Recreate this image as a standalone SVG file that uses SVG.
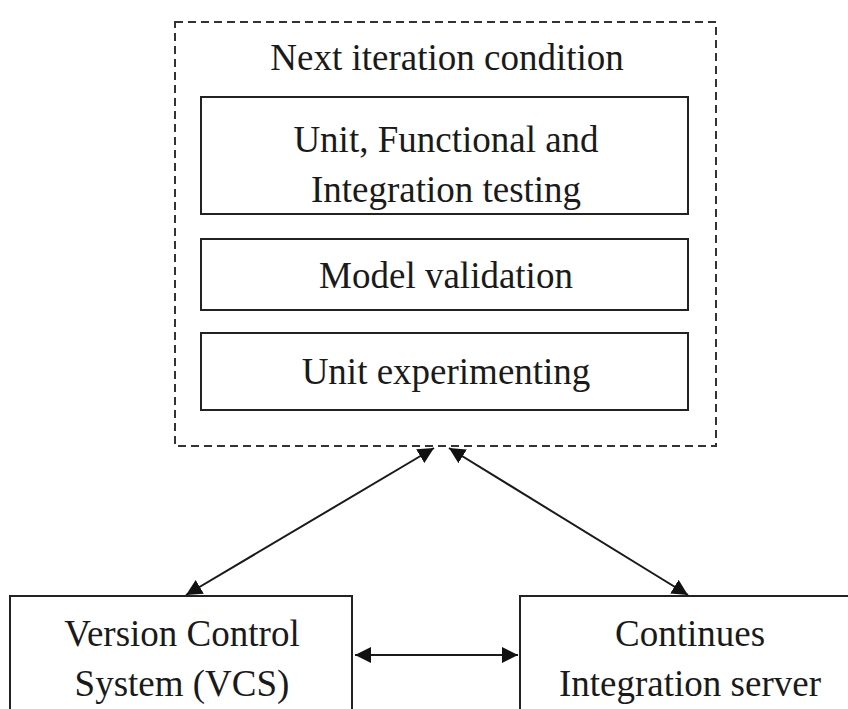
<svg xmlns="http://www.w3.org/2000/svg" width="848" height="709" viewBox="0 0 848 709">
<style>
.box{fill:#fff;stroke:#222;stroke-width:2}
.dash{fill:none;stroke:#333;stroke-width:2;stroke-dasharray:8 5}
.t{font-family:"Liberation Serif","Times New Roman",serif;font-size:37px;fill:#1a1a1a;text-anchor:middle}
.c{stroke:#1a1a1a;stroke-width:2;fill:none;marker-start:url(#ah);marker-end:url(#ah)}
</style>
<defs>
<marker id="ah" viewBox="0 0 10 10" refX="10" refY="5" markerWidth="8" markerHeight="8" orient="auto-start-reverse" markerUnits="strokeWidth">
<path d="M0,0 L10,5 L0,10 z" fill="#111"/>
</marker>
</defs>
<rect width="848" height="709" fill="#fff"/>
<g id="container">
<rect class="dash" x="175" y="22" width="541" height="424"/>
<text class="t" x="447" y="70">Next iteration condition</text>
</g>
<g id="testing">
<rect class="box" x="201" y="97" width="487" height="117"/>
<text class="t" x="446" y="152">Unit, Functional and</text>
<text class="t" x="446" y="202">Integration testing</text>
</g>
<g id="validation">
<rect class="box" x="201" y="239" width="487" height="71"/>
<text class="t" x="446" y="288">Model validation</text>
</g>
<g id="experimenting">
<rect class="box" x="201" y="333" width="487" height="77"/>
<text class="t" x="446" y="384">Unit experimenting</text>
</g>
<g id="vcs">
<rect class="box" x="10" y="596" width="342" height="125"/>
<text class="t" x="182" y="646">Version Control</text>
<text class="t" x="182" y="696">System (VCS)</text>
</g>
<g id="ci">
<rect class="box" x="520" y="596" width="340" height="125"/>
<text class="t" x="690" y="646">Continues</text>
<text class="t" x="690" y="696">Integration server</text>
</g>
<g id="connectors">
<line class="c" x1="434" y1="448" x2="186" y2="595"/>
<line class="c" x1="449" y1="448" x2="688" y2="595"/>
<line class="c" x1="355" y1="655" x2="518" y2="655"/>
</g>
</svg>
